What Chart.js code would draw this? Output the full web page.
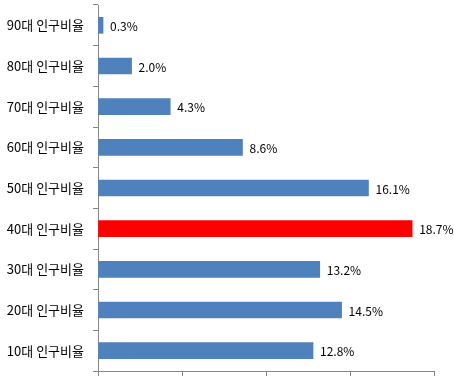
<!DOCTYPE html>
<html>
<head>
<meta charset="utf-8">
<script src="https://cdn.jsdelivr.net/npm/chart.js@4"></script>
<style>
  body { margin: 0; background: #fff; }
  #wrap { width: 454px; height: 377px; }
</style>
</head>
<body>
<div id="wrap"><canvas id="ageChart"></canvas></div>
<script>
const categories = ['90대 인구비율', '80대 인구비율', '70대 인구비율', '60대 인구비율', '50대 인구비율',
                    '40대 인구비율', '30대 인구비율', '20대 인구비율', '10대 인구비율'];
const ratios = [0.3, 2.0, 4.3, 8.6, 16.1, 18.7, 13.2, 14.5, 12.8];
const highlight = '40대 인구비율';

// value labels to the right of each bar
const valueLabels = {
    id: 'valueLabels',
    afterDatasetsDraw(chart) {
        const ctx = chart.ctx;
        const meta = chart.getDatasetMeta(0);
        ctx.save();
        ctx.font = '12px "Noto Sans CJK KR", sans-serif';
        ctx.fillStyle = '#000';
        ctx.textBaseline = 'middle';
        meta.data.forEach((bar, i) => {
            ctx.fillText(ratios[i].toFixed(1) + '%', bar.x + 7, bar.y + 1);
        });
        ctx.restore();
    }
};

const ctx = document.getElementById('ageChart').getContext('2d');
new Chart(ctx, {
    type: 'bar',
    data: {
        labels: categories,
        datasets: [{
            data: ratios,
            backgroundColor: categories.map(c => c === highlight ? '#ff0000' : '#4f81bd'),
            barThickness: 16
        }]
    },
    options: {
        indexAxis: 'y',
        responsive: true,
        maintainAspectRatio: false,
        animation: false,
        layout: { padding: { top: 5, right: 20, left: 0, bottom: 0 } },
        plugins: {
            legend: { display: false },
            tooltip: { enabled: false }
        },
        scales: {
            x: {
                min: 0,
                max: 20,
                ticks: { stepSize: 5, callback: () => '' , padding: 0 },
                grid: { drawOnChartArea: false, drawTicks: true, tickLength: 5, color: '#868686' },
                border: { color: '#868686' },
                afterFit: s => { s.height = 6; s.paddingLeft = 0; s.paddingRight = 0; }
            },
            y: {
                ticks: {
                    color: '#000',
                    padding: 9,
                    font: { family: '"Noto Sans CJK KR", sans-serif', size: 13 }
                },
                grid: { drawOnChartArea: false, drawTicks: true, tickLength: 5, color: '#868686', offset: true },
                border: { color: '#868686' },
                afterFit: s => { s.width = 98; s.paddingTop = 0; s.paddingBottom = 0; }
            }
        }
    },
    plugins: [valueLabels]
});
</script>
</body>
</html>
